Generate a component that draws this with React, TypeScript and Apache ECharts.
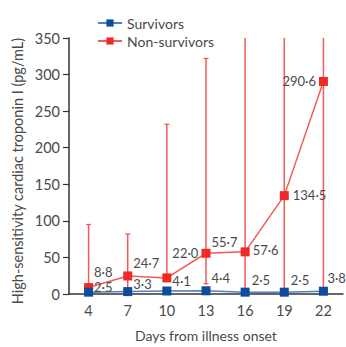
import React, { useEffect, useRef } from "react";
import * as echarts from "echarts";

const days = ["4", "7", "10", "13", "16", "19", "22"];
const survivors = [2.5, 3.3, 4.1, 4.4, 2.5, 2.5, 3.8];
const nonSurvivors = [8.8, 24.7, 22.0, 55.7, 57.6, 134.5, 290.6];
const nonSurvivorsLow = [3, 6, 18, 14, 6, 6, 6];
const nonSurvivorsHigh = [95, 82, 232, 322, 1000, 1000, 1000];
const yTicks = { min: 0, max: 350, interval: 50 };
const yTitle = "High-sensitivity cardiac troponin I (pg/mL)";
const xTitle = "Days from illness onset";

// label styling offsets (not data)
const nsLabelPos = ["right", "right", "right", "right", "right", "right", "left"];
const nsLabelOff = [[-4, -16], [-4, -13], [-4, -25], [-4, -11], [-2, -2], [-1, -1], [2, 0]];
const sLabelOff = [[-4, -5], [-4, -7.5], [-4, -10], [-4, -13], [-3, -12], [-3, -12], [-5.5, -13]];

const RED = "#ee2a24";
const RED_LINE = "#f25a55";
const BLUE = "#0d4c9c";
const BLUE_LINE = "#4f7fbf";
const TEXT = "#4a4a4a";
const FONT = "Lato";

const fmt = (v: number) => v.toFixed(1).replace(".", "·");

export default function App() {
  const ref = useRef<HTMLDivElement>(null);
  useEffect(() => {
    if (!ref.current) return;
    const chart = echarts.init(ref.current, undefined, { renderer: "svg" });
    const yMax = yTicks.max;
    chart.setOption({
      animation: false,
      textStyle: { fontFamily: FONT },
      grid: { left: 69, right: 3, top: 38, bottom: 48, containLabel: false },
      graphic: [
        {
          type: "text",
          x: 17,
          y: 171,
          rotation: Math.PI / 2,
          style: {
            text: yTitle,
            fill: TEXT,
            font: `14.5px ${FONT}`,
            align: "center",
            verticalAlign: "middle",
          },
        },
      ],
      legend: {
        orient: "vertical",
        left: 92,
        top: 11,
        itemWidth: 24,
        itemHeight: 9,
        itemGap: 4,
        textStyle: { color: TEXT, fontSize: 14, fontFamily: FONT },
        data: ["Survivors", "Non-survivors"],
      },
      xAxis: {
        type: "category",
        data: days,
        boundaryGap: true,
        name: xTitle,
        nameLocation: "middle",
        nameGap: 34,
        nameTextStyle: { color: TEXT, fontSize: 14, fontFamily: FONT },
        axisLine: { lineStyle: { color: "#333", width: 1.5 } },
        axisTick: { alignWithLabel: true, length: 5, lineStyle: { color: "#333", width: 1.2 } },
        axisLabel: { color: TEXT, fontSize: 14.5, margin: 9, fontFamily: FONT },
      },
      yAxis: {
        type: "value",
        min: yTicks.min,
        max: yTicks.max,
        interval: yTicks.interval,
        splitLine: { show: false },
        axisLine: { show: true, lineStyle: { color: "#333", width: 1.5 } },
        axisTick: { show: true, length: 6, lineStyle: { color: "#333", width: 1.2 } },
        axisLabel: { color: TEXT, fontSize: 14.5, margin: 9, fontFamily: FONT },
      },
      series: [
        {
          type: "custom",
          name: "errNS",
          z: 1,
          silent: true,
          data: days.map((_, i) => [i, nonSurvivorsLow[i], nonSurvivorsHigh[i]]),
          renderItem: (params: any, api: any) => {
            const i = api.value(0);
            const lo = api.value(1);
            const hi = api.value(2);
            const top = api.coord([i, Math.min(hi, yMax)]);
            const bot = api.coord([i, lo]);
            const children: any[] = [
              {
                type: "line",
                shape: { x1: top[0], y1: top[1], x2: bot[0], y2: bot[1] },
                style: { stroke: RED_LINE, lineWidth: 1.5 },
              },
              {
                type: "line",
                shape: { x1: bot[0] - 2.5, y1: bot[1], x2: bot[0] + 2.5, y2: bot[1] },
                style: { stroke: RED_LINE, lineWidth: 1.3 },
              },
            ];
            if (hi <= yMax) {
              children.push({
                type: "line",
                shape: { x1: top[0] - 2.5, y1: top[1], x2: top[0] + 2.5, y2: top[1] },
                style: { stroke: RED_LINE, lineWidth: 1.3 },
              });
            }
            return { type: "group", children };
          },
        },
        {
          type: "line",
          name: "Non-survivors",
          z: 3,
          data: nonSurvivors.map((v, i) => ({
            value: v,
            label: { position: nsLabelPos[i], offset: nsLabelOff[i] },
          })),
          symbol: "rect",
          symbolSize: 9,
          lineStyle: { color: RED_LINE, width: 1.5 },
          itemStyle: { color: RED },
          label: {
            show: true,
            color: TEXT,
            fontSize: 13,
            fontFamily: FONT,
            formatter: (p: any) => fmt(p.value),
          },
        },
        {
          type: "line",
          name: "Survivors",
          z: 4,
          data: survivors.map((v, i) => ({
            value: v,
            label: { position: "right", offset: sLabelOff[i] },
          })),
          symbol: "rect",
          symbolSize: 9,
          lineStyle: { color: BLUE_LINE, width: 1.5 },
          itemStyle: { color: BLUE },
          label: {
            show: true,
            color: TEXT,
            fontSize: 13,
            fontFamily: FONT,
            formatter: (p: any) => fmt(p.value),
          },
        },
      ],
    });
    return () => chart.dispose();
  }, []);
  return <div ref={ref} style={{ width: 346, height: 347, position: "absolute", left: 0, top: 0 }} />;
}
